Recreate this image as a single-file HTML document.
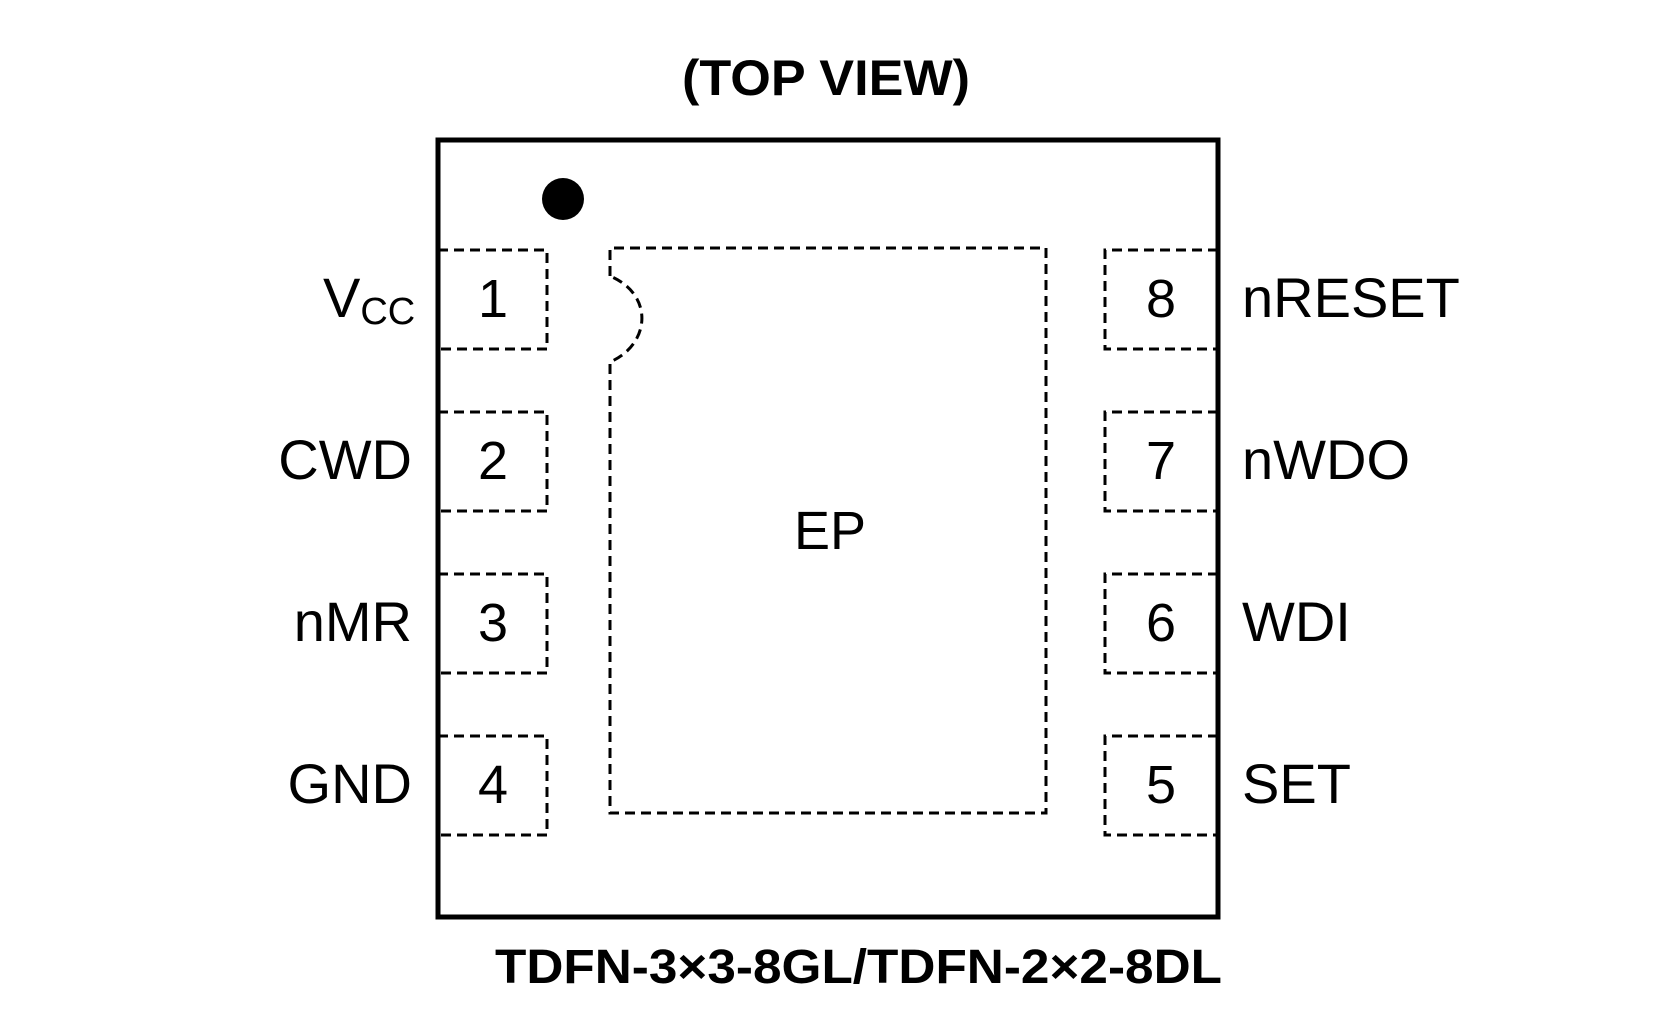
<!DOCTYPE html>
<html><head><meta charset="utf-8"><style>html,body{margin:0;padding:0;background:#fff}svg{display:block}</style></head>
<body>
<svg width="1654" height="1036" viewBox="0 0 1654 1036" xmlns="http://www.w3.org/2000/svg" font-family="Liberation Sans, Arial, sans-serif">
<rect x="438" y="140" width="780" height="777" fill="none" stroke="#000" stroke-width="5"/>
<circle cx="563" cy="199" r="21" fill="#000"/>
<g fill="none" stroke="#000" stroke-width="3" stroke-dasharray="10,6">
<path d="M438 250 H547 V349 H438"/>
<path d="M438 412 H547 V511 H438"/>
<path d="M438 574 H547 V673 H438"/>
<path d="M438 736 H547 V835 H438"/>
<path d="M1218 250 H1105 V349 H1218"/>
<path d="M1218 412 H1105 V511 H1218"/>
<path d="M1218 574 H1105 V673 H1218"/>
<path d="M1218 736 H1105 V835 H1218"/>
<path d="M610 276 V248 H1046 V813 H610 V362 C650 345 655 295 610 276"/>
</g>
<g font-size="54" text-anchor="middle">
<text x="493" y="317">1</text><text x="493" y="479">2</text><text x="493" y="641">3</text><text x="493" y="803">4</text>
<text x="1161" y="317">8</text><text x="1161" y="479">7</text><text x="1161" y="641">6</text><text x="1161" y="803">5</text>
<text x="830" y="549">EP</text>
</g>
<g font-size="56" text-anchor="end">
<text x="412" y="479">CWD</text><text x="412" y="641">nMR</text><text x="412" y="803">GND</text>
</g>
<text x="323" y="317" font-size="56">V<tspan font-size="38" dy="7">CC</tspan></text>
<g font-size="56">
<text x="1242" y="317">nRESET</text><text x="1242" y="479">nWDO</text><text x="1242" y="641">WDI</text><text x="1242" y="803">SET</text>
</g>
<text x="682" y="95" font-size="50" font-weight="bold" textLength="288" lengthAdjust="spacingAndGlyphs">(TOP VIEW)</text>
<text x="495" y="983" font-size="48" font-weight="bold" textLength="727" lengthAdjust="spacingAndGlyphs">TDFN-3×3-8GL/TDFN-2×2-8DL</text>
</svg>
</body></html>
